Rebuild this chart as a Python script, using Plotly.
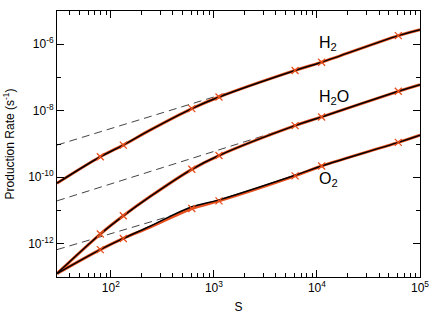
import plotly.graph_objects as go
import math

# ---- data ----
S = [30, 79, 132, 240, 610, 1120, 6130, 11100, 61600, 100000]
marker_S = [79, 132, 610, 1120, 6130, 11100, 61600]

h2_black = [6.61e-11, 4.14e-10, 9.27e-10, 2.61e-9, 1.16e-8, 2.59e-8, 1.63e-7, 2.89e-7, 1.82e-6, 2.75e-6]
h2o_black = [1.27e-13, 1.96e-12, 6.93e-12, 2.62e-11, 1.73e-10, 4.50e-10, 3.56e-9, 6.52e-9, 3.84e-8, 6.08e-8]
o2_black = [1.27e-13, 6.65e-13, 1.44e-12, 3.37e-12, 1.29e-11, 2.09e-11, 1.15e-10, 2.18e-10, 1.12e-9, 1.85e-9]

h2_orange = [6.61e-11, 4.14e-10, 9.27e-10, 2.61e-9, 1.16e-8, 2.59e-8, 1.63e-7, 2.89e-7, 1.82e-6, 2.75e-6]
h2o_orange = [1.27e-13, 1.96e-12, 6.93e-12, 2.62e-11, 1.73e-10, 4.50e-10, 3.56e-9, 6.52e-9, 3.84e-8, 6.08e-8]
o2_orange = [1.27e-13, 6.65e-13, 1.44e-12, 3.15e-12, 1.15e-11, 1.95e-11, 1.10e-10, 2.18e-10, 1.12e-9, 1.85e-9]

h2_dash_S = [30, 1435]
h2_dash = [9.27e-10, 3.66e-8]
h2o_dash_S = [30, 4560]
h2o_dash = [1.95e-11, 2.63e-9]
o2_dash_S = [30, 421]
o2_dash = [6.65e-13, 7.53e-12]

labels = ["H<sub>2</sub>", "H<sub>2</sub>O", "O<sub>2</sub>"]
label_S = [1.0e4, 1.0e4, 1.0e4]
label_y = [1.07e-6, 2.45e-8, 8.5e-11]

x_major = [1e2, 1e3, 1e4, 1e5]
x_major_text = ["10<sup>2</sup>", "10<sup>3</sup>", "10<sup>4</sup>", "10<sup>5</sup>"]
x_minor = [m * 10 ** e for e in (1, 2, 3, 4) for m in range(2, 10) if m * 10 ** e >= 30]
y_major = [1e-12, 1e-10, 1e-8, 1e-6]
y_major_text = ["10<sup>-12</sup>", "10<sup>-10</sup>", "10<sup>-8</sup>", "10<sup>-6</sup>"]
y_minor = [1e-11, 1e-9, 1e-7]

ORANGE = "#E8501E"
FONT = "Liberation Sans, Arial, Helvetica, sans-serif"

fig = go.Figure()

# dashed asymptotes
for xs, ys in [(h2_dash_S, h2_dash), (h2o_dash_S, h2o_dash), (o2_dash_S, o2_dash)]:
    fig.add_trace(go.Scatter(x=xs, y=ys, mode="lines",
                             line=dict(color="#444444", width=1, dash="8px,5px"),
                             showlegend=False, hoverinfo="skip"))

# orange lines
for ys in [h2_orange, h2o_orange, o2_orange]:
    fig.add_trace(go.Scatter(x=S, y=ys, mode="lines",
                             line=dict(color=ORANGE, width=3, shape="spline", smoothing=1.0),
                             showlegend=False, hoverinfo="skip"))

# black lines
for ys in [h2_black, h2o_black, o2_black]:
    fig.add_trace(go.Scatter(x=S, y=ys, mode="lines",
                             line=dict(color="black", width=1.5, shape="spline", smoothing=1.0),
                             showlegend=False, hoverinfo="skip"))

# orange x markers
for ys in [h2_orange, h2o_orange, o2_orange]:
    mx = [s for s in S if s in marker_S]
    my = [v for s, v in zip(S, ys) if s in marker_S]
    fig.add_trace(go.Scatter(x=mx, y=my, mode="markers",
                             marker=dict(symbol="x-thin", size=7,
                                         line=dict(color=ORANGE, width=1.3)),
                             showlegend=False, hoverinfo="skip"))

for txt, xs, ys in zip(labels, label_S, label_y):
    fig.add_annotation(x=math.log10(xs), y=math.log10(ys), text=txt, showarrow=False,
                       xanchor="left", yanchor="middle",
                       font=dict(family=FONT, size=16, color="black"))

axis_common = dict(
    type="log", showline=True, linecolor="black", linewidth=1, mirror="ticks",
    ticks="inside", ticklen=7, tickwidth=1, tickcolor="black", showgrid=False,
    zeroline=False, tickfont=dict(family=FONT, size=12, color="black"),
    tickmode="array", automargin=False,
)

fig.update_xaxes(**axis_common, range=[math.log10(30), 5],
                 tickvals=x_major, ticktext=x_major_text,
                 minor=dict(tickmode="array", tickvals=x_minor, ticks="inside",
                            ticklen=4, tickcolor="black", tickwidth=1, showgrid=False),
                 title=dict(text="S", font=dict(family=FONT, size=12, color="black"), standoff=8))
fig.update_yaxes(**axis_common, range=[-13, -5],
                 tickvals=y_major, ticktext=y_major_text,
                 minor=dict(tickmode="array", tickvals=y_minor, ticks="inside",
                            ticklen=4, tickcolor="black", tickwidth=1, showgrid=False),
                 title=dict(text="Production Rate (s<sup>-1</sup>)",
                            font=dict(family=FONT, size=12, color="black"), standoff=10))

fig.update_layout(width=436, height=315, margin=dict(l=57, r=16, t=11, b=38),
                  plot_bgcolor="white", paper_bgcolor="white",
                  font=dict(family=FONT, color="black"))

fig.write_html("out.html", config={"displayModeBar": False},
               post_script="document.body.style.margin='0';")
